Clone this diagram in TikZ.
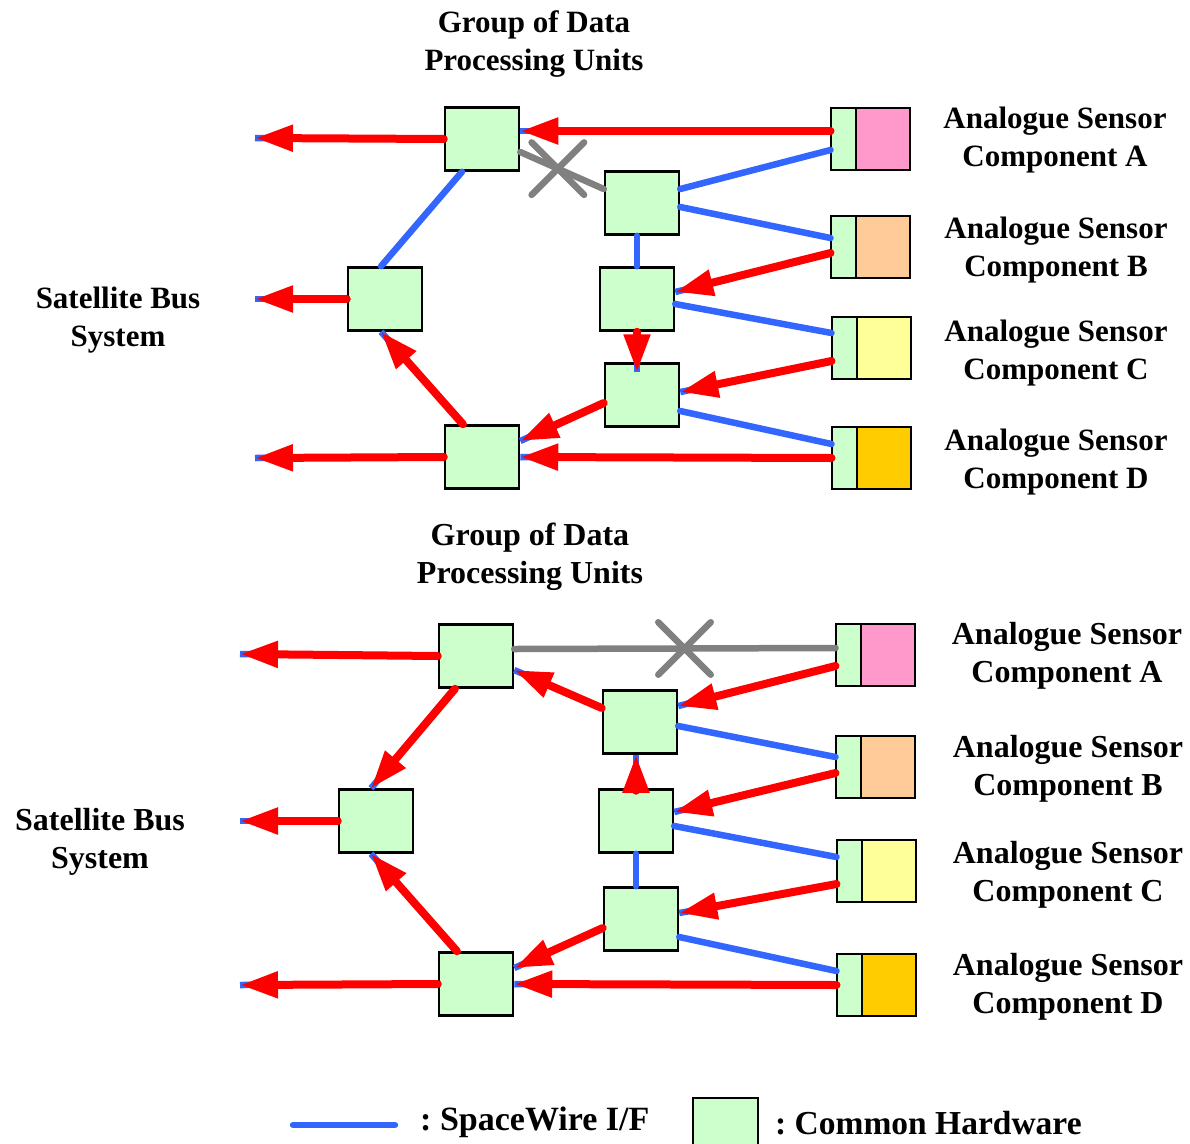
\documentclass[tikz,border=0pt]{standalone}
\usepackage{fontspec}
\setmainfont{Liberation Serif}
\usetikzlibrary{calc,arrows.meta,shapes.misc,positioning}

\definecolor{hwgreen}{HTML}{CCFFCC}
\definecolor{sensA}{HTML}{FF99CC}
\definecolor{sensB}{HTML}{FFCC99}
\definecolor{sensC}{HTML}{FFFF99}
\definecolor{sensD}{HTML}{FFCC00}
\definecolor{flowred}{HTML}{FF0000}
\definecolor{swblue}{HTML}{3366FF}
\definecolor{cutgray}{HTML}{808080}

\tikzset{
  dpu/.style={draw, line width=2.5pt, fill=hwgreen, minimum width=74pt, minimum height=63pt, inner sep=0pt},
  sensif/.style={draw, line width=2pt, fill=hwgreen, minimum width=25pt, minimum height=62pt, inner sep=0pt, outer sep=0pt},
  senscore/.style={draw, line width=2pt, fill=#1, minimum width=54pt, minimum height=62pt, inner sep=0pt, outer sep=0pt, anchor=west},
  txt/.style={font=\fontsize{31}{38}\selectfont\bfseries, align=center, inner sep=0pt},
  btxt/.style={font=\fontsize{32}{38}\selectfont\bfseries, align=center, inner sep=0pt},
  swire/.style={draw=swblue, line width=6.5pt, line cap=round},
  flow/.style={draw=flowred, line width=8pt, line cap=round, -{Triangle[length=38pt,width=25pt]},
    preaction={draw=swblue, line width=6.5pt, arrows=-}},
  cut/.style={draw=cutgray, line width=6.5pt, line cap=round},
  cutmark/.style={cross out, draw=cutgray, line width=6.5pt, line cap=round, minimum size=46pt, inner sep=0pt}
}

\begin{document}
\begin{tikzpicture}[x=1pt,y=-1pt]
  \useasboundingbox (0,0) rectangle (1190,1143);

  % upper panel
  \node[txt] (ttitle) at (534,44) {Group of Data\\Processing Units};
  \node[txt] (tbus) at (118,320) {Satellite Bus\\System};

  \node[dpu] (ta) at (482,139) {};
  \node[dpu] (tl) at (385,299) {};
  \node[dpu] (tb) at (482,457) {};
  \node[dpu] (tr1) at (642,203) {};
  \node[dpu] (tr2) at (637,299) {};
  \node[dpu] (tr3) at (642,395) {};

  \node[sensif] (tsa) at (843,139) {};
  \node[senscore=sensA] (tsaC) at (tsa.east) {};
  \node[sensif] (tsb) at (843,247) {};
  \node[senscore=sensB] (tsbC) at (tsb.east) {};
  \node[sensif] (tsc) at (844,348) {};
  \node[senscore=sensC] (tscC) at (tsc.east) {};
  \node[sensif] (tsd) at (844,458) {};
  \node[senscore=sensD] (tsdC) at (tsd.east) {};

  \node[txt] (tlA) at (1055,140) {Analogue Sensor\\Component A};
  \node[txt] (tlB) at (1056,250) {Analogue Sensor\\Component B};
  \node[txt] (tlC) at (1056,353) {Analogue Sensor\\Component C};
  \node[txt] (tlD) at (1056,462) {Analogue Sensor\\Component D};

  \coordinate (toutA) at (255,138);
  \coordinate (toutL) at (255,299);
  \coordinate (toutB) at (255,458);

  \draw[flow] (ta.west) -- (toutA);
  \draw[flow] (tl.west) -- (toutL);
  \draw[flow] (tb.west) -- (toutB);

  \draw[flow] ($(tsa.west)+(0,-8)$) -- ($(ta.east)+(0,-8)$);
  \draw[swire] ($(tsa.west)+(0,11)$) -- ($(tr1.east)+(0,-14)$);
  \draw[cut] ($(ta.east)+(0,13)$) -- node[cutmark, pos=0.45] (tx) {} ($(tr1.west)+(0,-14)$);
  \draw[swire] ($(ta.south)+(-20,0)$) -- ($(tl.north)+(-4,0)$);
  \draw[swire] ($(tr1.east)+(0,4)$) -- ($(tsb.west)+(0,-9)$);
  \draw[swire] (tr2.north |- tr1.south) -- (tr2.north);
  \draw[flow] ($(tsb.west)+(0,6)$) -- ($(tr2.east)+(0,-7)$);
  \draw[swire] ($(tr2.east)+(0,5)$) -- ($(tsc.west)+(0,-15)$);
  \draw[flow] (tr2.south) -- ($(tr2.south |- tr3.north)+(0,10)$);
  \draw[flow] ($(tsc.west)+(0,13)$) -- ($(tr3.east)+(0,-3)$);
  \draw[swire] ($(tr3.east)+(0,16)$) -- ($(tsd.west)+(0,-14)$);
  \draw[flow] ($(tr3.west)+(0,8)$) -- ($(tb.east)+(0,-16)$);
  \draw[flow] (tsd.west) -- (tb.east);
  \draw[flow] ($(tb.north)+(-19,0)$) -- ($(tl.south)+(-4,0)$);

  % lower panel
  \node[btxt] (btitle) at (530,557) {Group of Data\\Processing Units};
  \node[btxt] (bbus) at (100,842) {Satellite Bus\\System};

  \node[dpu] (ba) at (476,656) {};
  \node[dpu] (bl) at (376,821) {};
  \node[dpu] (bb) at (476,984) {};
  \node[dpu] (br1) at (640,722) {};
  \node[dpu] (br2) at (636,821) {};
  \node[dpu] (br3) at (641,919) {};

  \node[sensif] (bsa) at (848,655) {};
  \node[senscore=sensA] (bsaC) at (bsa.east) {};
  \node[sensif] (bsb) at (848,767) {};
  \node[senscore=sensB] (bsbC) at (bsb.east) {};
  \node[sensif] (bsc) at (849,871) {};
  \node[senscore=sensC] (bscC) at (bsc.east) {};
  \node[sensif] (bsd) at (849,985) {};
  \node[senscore=sensD] (bsdC) at (bsd.east) {};

  \node[btxt] (blA) at (1067,656) {Analogue Sensor\\Component A};
  \node[btxt] (blB) at (1068,769) {Analogue Sensor\\Component B};
  \node[btxt] (blC) at (1068,875) {Analogue Sensor\\Component C};
  \node[btxt] (blD) at (1068,987) {Analogue Sensor\\Component D};

  \coordinate (boutA) at (240,654);
  \coordinate (boutL) at (240,821);
  \coordinate (boutB) at (240,985);

  \draw[flow] (ba.west) -- (boutA);
  \draw[flow] (bl.west) -- (boutL);
  \draw[flow] (bb.west) -- (boutB);

  \draw[cut] ($(ba.east)+(0,-7)$) -- node[cutmark, pos=0.53] (bx) {} ($(bsa.west)+(0,-7)$);
  \draw[flow] ($(bsa.west)+(0,11)$) -- ($(br1.east)+(0,-16)$);
  \draw[swire] ($(br1.east)+(0,4)$) -- ($(bsb.west)+(0,-10)$);
  \draw[flow] ($(br1.west)+(0,-14)$) -- ($(ba.east)+(0,14)$);
  \draw[flow] ($(ba.south)+(-21,0)$) -- ($(bl.north)+(-5,0)$);
  \draw[flow] ($(bsb.west)+(0,6)$) -- ($(br2.east)+(0,-9)$);
  \draw[swire] ($(br2.east)+(0,5)$) -- ($(bsc.west)+(0,-14)$);
  \draw[flow] (br2.north) -- (br2.north |- br1.south);
  \draw[swire] (br2.south) -- (br2.south |- br3.north);
  \draw[flow] ($(bsc.west)+(0,13)$) -- ($(br3.east)+(0,-6)$);
  \draw[swire] ($(br3.east)+(0,18)$) -- ($(bsd.west)+(0,-14)$);
  \draw[flow] ($(br3.west)+(0,9)$) -- ($(bb.east)+(0,-16)$);
  \draw[flow] (bsd.west) -- (bb.east);
  \draw[flow] ($(bb.north)+(-19,0)$) -- ($(bl.south)+(-5,0)$);

  % legend
  \coordinate (lgA) at (293,1125);
  \coordinate (lgB) at (395,1125);
  \draw[swire] (lgA) -- (lgB);
  \node[txt, font=\fontsize{34}{38}\selectfont\bfseries, anchor=west] (lgsw) at (420,1122) {:\ SpaceWire I/F};
  \node[draw, line width=2pt, fill=hwgreen, minimum width=65pt, minimum height=60pt, inner sep=0pt] (lghw) at (725,1128) {};
  \node[txt, font=\fontsize{33.5}{38}\selectfont\bfseries, anchor=west] (lghwt) at (775,1123) {:\ Common Hardware};
\end{tikzpicture}
\end{document}
